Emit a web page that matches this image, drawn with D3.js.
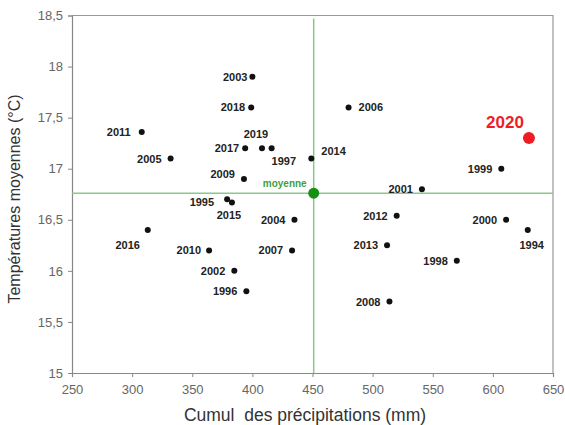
<!DOCTYPE html>
<html>
<head>
<meta charset="utf-8">
<script src="https://cdn.jsdelivr.net/npm/d3@7"></script>
<style>
  body { margin: 0; background: #fff; }
  text { font-family: "Liberation Sans", Arial, sans-serif; }
</style>
</head>
<body>
<div id="chart"></div>
<script>
const years  = [1994, 1995, 1996, 1997, 1998, 1999, 2000, 2001, 2002, 2003, 2004, 2005, 2006, 2007,
                2008, 2009, 2010, 2011, 2012, 2013, 2014, 2015, 2016, 2017, 2018, 2019, 2020];
const precip = [629, 379, 395, 416, 570, 607, 611, 541, 385, 400, 435, 332, 480, 433,
                514, 393, 364, 308, 520, 512, 449, 383, 313, 394, 399, 408, 630];
const temps  = [16.4, 16.7, 15.8, 17.2, 16.1, 17.0, 16.5, 16.8, 16.0, 17.9, 16.5, 17.1, 17.6, 16.2,
                15.7, 16.9, 16.2, 17.36, 16.54, 16.25, 17.1, 16.67, 16.4, 17.2, 17.6, 17.2, 17.3];
const highlightYear = 2020;
const meanPrecip = 451;
const meanTemp = 16.76;
const xTicks = [250, 300, 350, 400, 450, 500, 550, 600, 650];
const yTicks = [15, 15.5, 16, 16.5, 17, 17.5, 18, 18.5];

// label placement around each dot: [dx, dy, anchor]
const labelPos = {
    1994: [4, 19, 'middle'], 1995: [-13, 7, 'end'], 1997: [0, 17, 'start'],
    2003: [-5, 4, 'end'], 2006: [10, 4, 'start'], 2009: [-9, -1, 'end'],
    2011: [-11, 4, 'end'], 2014: [10, -4, 'start'], 2015: [-3, 17, 'middle'],
    2016: [-20, 19, 'middle'], 2017: [-6, 4, 'end'], 2018: [-6, 4, 'end'],
    2019: [-6, -10, 'middle'], 2020: [-24, -10, 'middle'], 2010: [-8, 4, 'end']
};

const config = { width: 565, height: 425, marginTop: 15.5, marginRight: 12, marginBottom: 52, marginLeft: 72 };

const data = years.map((y, i) => ({ year: y, precip: precip[i], temp: temps[i] }));

const svg = d3.select('#chart').append('svg')
    .attr('width', config.width)
    .attr('height', config.height);

const x = d3.scaleLinear().domain([250, 650])
    .range([config.marginLeft, config.width - config.marginRight]);
const y = d3.scaleLinear().domain([15, 18.5])
    .range([config.height - config.marginBottom, config.marginTop]);

const fmt = d => String(d).replace('.', ',');

// frame top/right
svg.append('path')
    .attr('d', `M${x(250)},${y(18.5)}H${x(650)}V${y(15)}`)
    .attr('fill', 'none').attr('stroke', '#999').attr('stroke-width', 1.2);

const xAxis = svg.append('g')
    .attr('transform', `translate(0,${y(15)})`)
    .call(d3.axisBottom(x).tickValues(xTicks).tickSize(4).tickPadding(8).tickFormat(fmt));
const yAxis = svg.append('g')
    .attr('transform', `translate(${x(250)},0)`)
    .call(d3.axisLeft(y).tickValues(yTicks).tickSize(4).tickPadding(5).tickFormat(fmt));

[xAxis, yAxis].forEach(g => {
    g.select('.domain').attr('stroke', '#888').attr('stroke-width', 1.2);
    g.selectAll('.tick line').attr('stroke', '#888');
    g.selectAll('.tick text').attr('fill', '#666').attr('font-size', '13px')
        .attr('font-family', '"Liberation Sans", Arial, sans-serif');
});

svg.append('text')
    .attr('x', 305).attr('y', 421)
    .attr('text-anchor', 'middle')
    .attr('font-size', '17.5px').attr('fill', '#333')
    .style('white-space', 'pre')
    .text('Cumul  des précipitations (mm)');

svg.append('text')
    .attr('transform', `translate(20,199) rotate(-90)`)
    .attr('text-anchor', 'middle')
    .attr('font-size', '16px').attr('fill', '#333')
    .text('Températures moyennes (°C)');

// mean lines
svg.append('line')
    .attr('x1', x(meanPrecip)).attr('x2', x(meanPrecip))
    .attr('y1', y(18.5) + 3).attr('y2', y(15))
    .attr('stroke', '#8cc78c').attr('stroke-width', 1.5);
svg.append('line')
    .attr('x1', x(250)).attr('x2', x(650))
    .attr('y1', y(meanTemp)).attr('y2', y(meanTemp))
    .attr('stroke', '#8cc78c').attr('stroke-width', 1.5);

svg.append('text')
    .attr('x', x(meanPrecip) - 7).attr('y', y(meanTemp) - 6)
    .attr('text-anchor', 'end')
    .attr('font-size', '10px').attr('font-weight', 'bold')
    .attr('fill', '#3f9f3f')
    .text('moyenne');

svg.append('circle')
    .attr('cx', x(meanPrecip)).attr('cy', y(meanTemp))
    .attr('r', 5.5).attr('fill', '#159015');

// points
svg.append('g').selectAll('circle')
    .data(data)
    .join('circle')
    .attr('cx', d => x(d.precip))
    .attr('cy', d => y(d.temp))
    .attr('r', d => d.year === highlightYear ? 6 : 3)
    .attr('fill', d => d.year === highlightYear ? '#f01c24' : '#111');

svg.append('g').selectAll('text')
    .data(data)
    .join('text')
    .attr('x', d => x(d.precip) + (labelPos[d.year] || [-9])[0])
    .attr('y', d => y(d.temp) + (labelPos[d.year] || [0, 4])[1])
    .attr('text-anchor', d => (labelPos[d.year] || [0, 0, 'end'])[2])
    .attr('font-size', d => d.year === highlightYear ? '17px' : '11px')
    .attr('font-weight', 'bold')
    .attr('fill', d => d.year === highlightYear ? '#f01c24' : '#222')
    .text(d => d.year);
</script>
</body>
</html>
